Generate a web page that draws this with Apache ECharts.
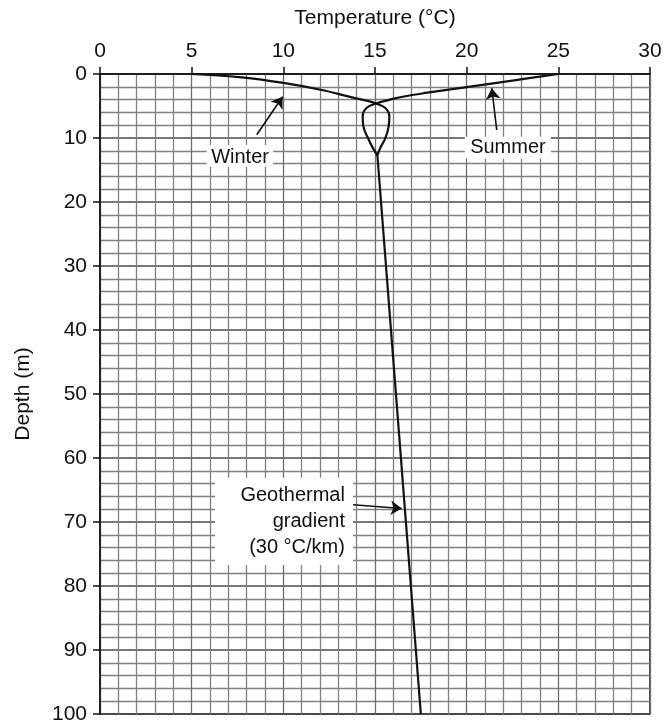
<!DOCTYPE html>
<html>
<head>
<meta charset="utf-8">
<script src="https://cdn.jsdelivr.net/npm/echarts@6/dist/echarts.min.js"></script>
<style>
  html, body { margin: 0; padding: 0; background: #fff; }
  #chart { width: 667px; height: 723px; }
</style>
</head>
<body>
<div id="chart"></div>
<script>
// Temperature profile with depth: seasonal curves near the surface and the geothermal gradient below.
const FONT = '"Liberation Sans", Arial, Helvetica, sans-serif';
const INK = '#111';

// Temperature axis ticks (°C) and depth axis ticks (m)
const tempTicks = [0, 5, 10, 15, 20, 25, 30];
const depthTicks = [0, 10, 20, 30, 40, 50, 60, 70, 80, 90, 100];

// Winter profile: cold at the surface, crossing at ~4.6 m, then the right side of the loop
const winterTemp  = [5, 7.6, 10, 12.1, 13.8, 14.6, 15.05, 15.55, 15.78, 15.75, 15.55, 15.31, 15.13];
const winterDepth = [0, 0.5, 1.4, 2.5, 3.7, 4.2, 4.6, 5.28, 6.56, 8.1, 10.15, 11.4, 12.7];

// Summer profile: warm at the surface, crossing, then the left side of the loop
const summerTemp  = [25, 22.5, 20, 17.66, 16.5, 15.82, 15.05, 14.55, 14.33, 14.36, 14.64, 14.91, 15.13];
const summerDepth = [0, 1.03, 2.05, 3.0, 3.55, 4.0, 4.6, 5.28, 6.56, 8.1, 10.15, 11.7, 12.7];

// Geothermal gradient below the seasonal zone (30 °C/km)
const geoTemp  = [15.13, 17.5];
const geoDepth = [12.7, 100];

// Annotation texts
const winterLabel = 'Winter';
const summerLabel = 'Summer';
const geoLabel = 'Geothermal\ngradient\n(30 °C/km)';

const zip = (xs, ys) => xs.map((x, i) => [x, ys[i]]);

const chart = echarts.init(document.getElementById('chart'), null, { renderer: 'canvas' });

const curveStyle = { color: INK, width: 2.2 };
function arrow(from, to) {
  return {
    silent: true,
    symbol: ['none', 'arrow'],
    symbolSize: 11,
    label: { show: false },
    emphasis: { disabled: true },
    lineStyle: { color: INK, width: 1.6, type: 'solid' },
    data: [[{ coord: from }, { coord: to }]]
  };
}

chart.setOption({
  animation: false,
  backgroundColor: '#fff',
  grid: {
    left: 100, right: 17, top: 74, bottom: 9,
    containLabel: false, outerBoundsMode: 'none',
    show: true, borderColor: INK, borderWidth: 1.5, backgroundColor: 'transparent'
  },
  xAxis: {
    type: 'value', position: 'top',
    min: tempTicks[0], max: tempTicks[tempTicks.length - 1], interval: 5,
    name: 'Temperature (°C)', nameLocation: 'middle', nameGap: 45,
    nameTextStyle: { fontFamily: FONT, fontSize: 21, color: INK },
    axisLine: { show: true, lineStyle: { color: INK, width: 1.5 } },
    axisTick: { show: true, inside: false, length: 7, lineStyle: { color: INK, width: 1.5 } },
    axisLabel: { fontFamily: FONT, fontSize: 21, color: INK, margin: 12 },
    splitLine: { show: true, lineStyle: { color: '#6e6e6e', width: 1.3 } },
    minorTick: { show: false, splitNumber: 5 },
    minorSplitLine: { show: true, lineStyle: { color: '#808080', width: 1.3 } }
  },
  yAxis: {
    type: 'value', inverse: true,
    min: depthTicks[0], max: depthTicks[depthTicks.length - 1], interval: 10,
    name: 'Depth (m)', nameLocation: 'middle', nameGap: 66, nameRotate: 90,
    nameTextStyle: { fontFamily: FONT, fontSize: 21, color: INK },
    axisLine: { show: true, lineStyle: { color: INK, width: 1.5 } },
    axisTick: { show: true, inside: false, length: 7, lineStyle: { color: INK, width: 1.5 } },
    axisLabel: { fontFamily: FONT, fontSize: 21, color: INK, margin: 13 },
    splitLine: { show: true, lineStyle: { color: '#4a4a4a', width: 1.5 } },
    minorTick: { show: false, splitNumber: 5 },
    minorSplitLine: { show: true, lineStyle: { color: '#808080', width: 1.3 } }
  },
  series: [
    {
      name: 'Winter', type: 'line', data: zip(winterTemp, winterDepth),
      smooth: 0.4, showSymbol: false, lineStyle: curveStyle, z: 5,
      markLine: arrow([8.55, 9.5], [9.96, 3.55])
    },
    {
      name: 'Summer', type: 'line', data: zip(summerTemp, summerDepth),
      smooth: 0.4, showSymbol: false, lineStyle: curveStyle, z: 5,
      markLine: arrow([21.64, 8.75], [21.37, 2.23])
    },
    {
      name: 'Geothermal', type: 'line', data: zip(geoTemp, geoDepth),
      showSymbol: false, lineStyle: curveStyle, z: 5,
      markLine: arrow([13.8, 67.3], [16.46, 67.9])
    }
  ]
});

// Place the annotation boxes and texts in data coordinates
function px(t, d) { return chart.convertToPixel({ gridIndex: 0 }, [t, d]); }
function box(t0, d0, t1, d1) {
  const a = px(t0, d0), b = px(t1, d1);
  return {
    type: 'rect', z: 10, silent: true,
    shape: { x: a[0], y: a[1], width: b[0] - a[0], height: b[1] - a[1] },
    style: { fill: '#fff' }
  };
}
function label(t, d, text, align) {
  const p = px(t, d);
  return {
    type: 'text', z: 11, silent: true, x: p[0], y: p[1],
    style: {
      text, fill: INK, font: '20px ' + FONT,
      align: align, verticalAlign: 'middle', lineHeight: 26
    }
  };
}

chart.setOption({
  graphic: [
    box(5.82, 11.1, 9.44, 14.5),
    label(7.64, 12.97, winterLabel, 'center'),
    box(19.9, 9.8, 24.6, 13.2),
    label(22.25, 11.56, summerLabel, 'center'),
    box(6.27, 63.1, 13.8, 76.7),
    label(13.36, 69.85, geoLabel, 'right')
  ]
});
</script>
</body>
</html>
